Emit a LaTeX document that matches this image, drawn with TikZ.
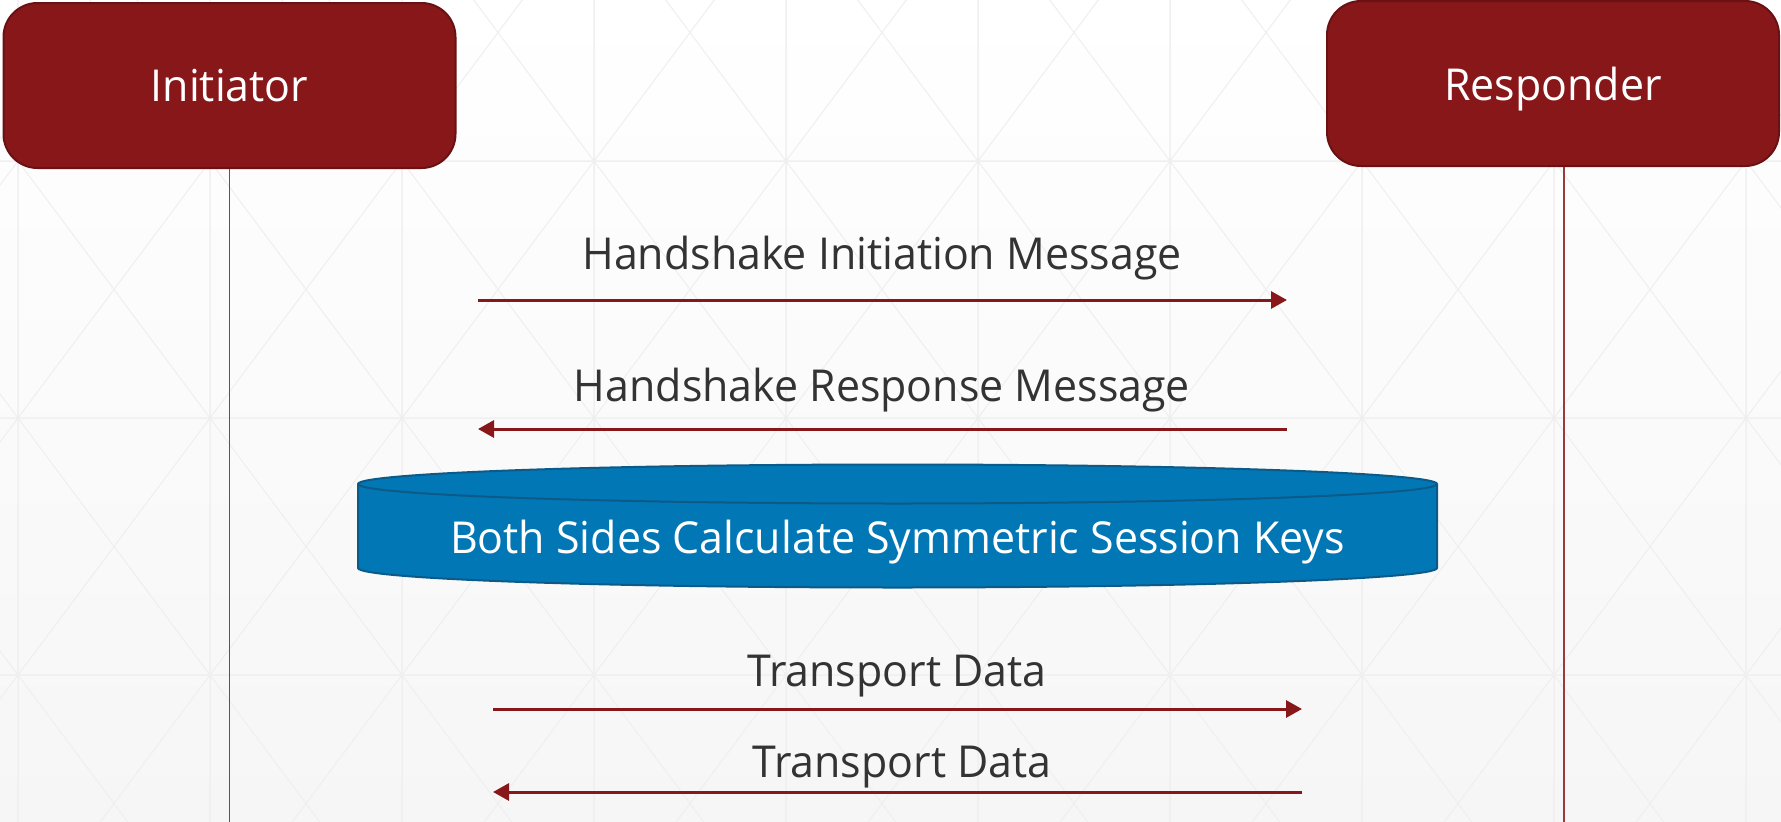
\documentclass[tikz,border=0pt]{standalone}
\usepackage{fontspec}
\setmainfont[FakeStretch=0.975]{Open Sans}
\usepackage{xcolor}
\usetikzlibrary{positioning,arrows.meta}
\definecolor{wgred}{HTML}{881719}
\definecolor{wgredline}{HTML}{6A1113}
\definecolor{wgblue}{HTML}{0277B5}
\definecolor{wgblueline}{HTML}{0B5A88}
\definecolor{wgtext}{HTML}{333333}
\definecolor{wggrid}{HTML}{EFEFEF}
\definecolor{wgback}{HTML}{F6F6F6}

\begin{document}
\begin{tikzpicture}[x=1pt, y=-1pt, font=\fontsize{44}{53}\selectfont,
    party/.style={draw=wgredline, line width=2pt, fill=wgred, rounded corners=34pt, text=white, minimum width=452pt, minimum height=165pt, inner sep=0pt, text depth=0pt},
    lifeline/.style={draw=wgred!85!white, line width=1.8pt},
    msg/.style={draw=wgred, line width=3pt, -{Triangle[length=16pt, width=17pt]}},
    msglabel/.style={text=wgtext, anchor=base, inner sep=0pt},
    keys/.style={text=white, inner sep=0pt, text depth=0pt},
    cyl/.style={fill=wgblue, draw=wgblueline, line width=2pt},
    gridline/.style={draw=wggrid, line width=1pt}]
    \useasboundingbox (0,0) rectangle (1781,822);
    \shade[top color=white, bottom color=wgback] (0,0) rectangle (1781,822);
    \begin{scope}
        \clip (0,0) rectangle (1781,822);
        \foreach \i in {-1,...,9}
            \foreach \j in {-1,...,2}
                \draw[gridline] (18+192*\i,161+257*\j) rectangle ++(192,257)
                    (18+192*\i,161+257*\j) -- ++(192,257) ++(-192,0) -- ++(192,-257);
    \end{scope}

    \node[party] (initiator) at (229.5,85.5) {Initiator};
    \node[party] (responder) at (1553,83.5) {Responder};
    \coordinate (initiator end) at (229.5,822);
    \coordinate (responder end) at (1564,822);
    \draw[lifeline] (initiator.south) -- (initiator end);
    \draw[lifeline] (responder.south -| responder end) -- (responder end);

    \coordinate (init from) at (478,300);
    \coordinate (init to) at (1287,300);
    \draw[msg] (init from) -- (init to);
    \node[msglabel] (init label) at (882,269) {Handshake Initiation Message};

    \coordinate (resp from) at (1287,429);
    \coordinate (resp to) at (478,429);
    \draw[msg] (resp from) -- (resp to);
    \node[msglabel] (resp label) at (882,401) {Handshake Response Message};

    \filldraw[cyl] (358,484) -- (358,568)
        arc[start angle=180, end angle=360, x radius=539.5pt, y radius=19.5pt]
        -- (1437,484)
        arc[start angle=0, end angle=180, x radius=539.5pt, y radius=19.5pt] -- cycle;
    \draw[cyl, fill=none] (358,484) arc[start angle=180, end angle=360, x radius=539.5pt, y radius=19.5pt];
    \node[keys] (session keys) at (897.5,537) {Both Sides Calculate Symmetric Session Keys};

    \coordinate (data out from) at (493,709);
    \coordinate (data out to) at (1302,709);
    \draw[msg] (data out from) -- (data out to);
    \node[msglabel] (data out label) at (897,686) {Transport Data};

    \coordinate (data in from) at (1302,792);
    \coordinate (data in to) at (493,792);
    \draw[msg] (data in from) -- (data in to);
    \node[msglabel] (data in label) at (902,777) {Transport Data};
\end{tikzpicture}
\end{document}
